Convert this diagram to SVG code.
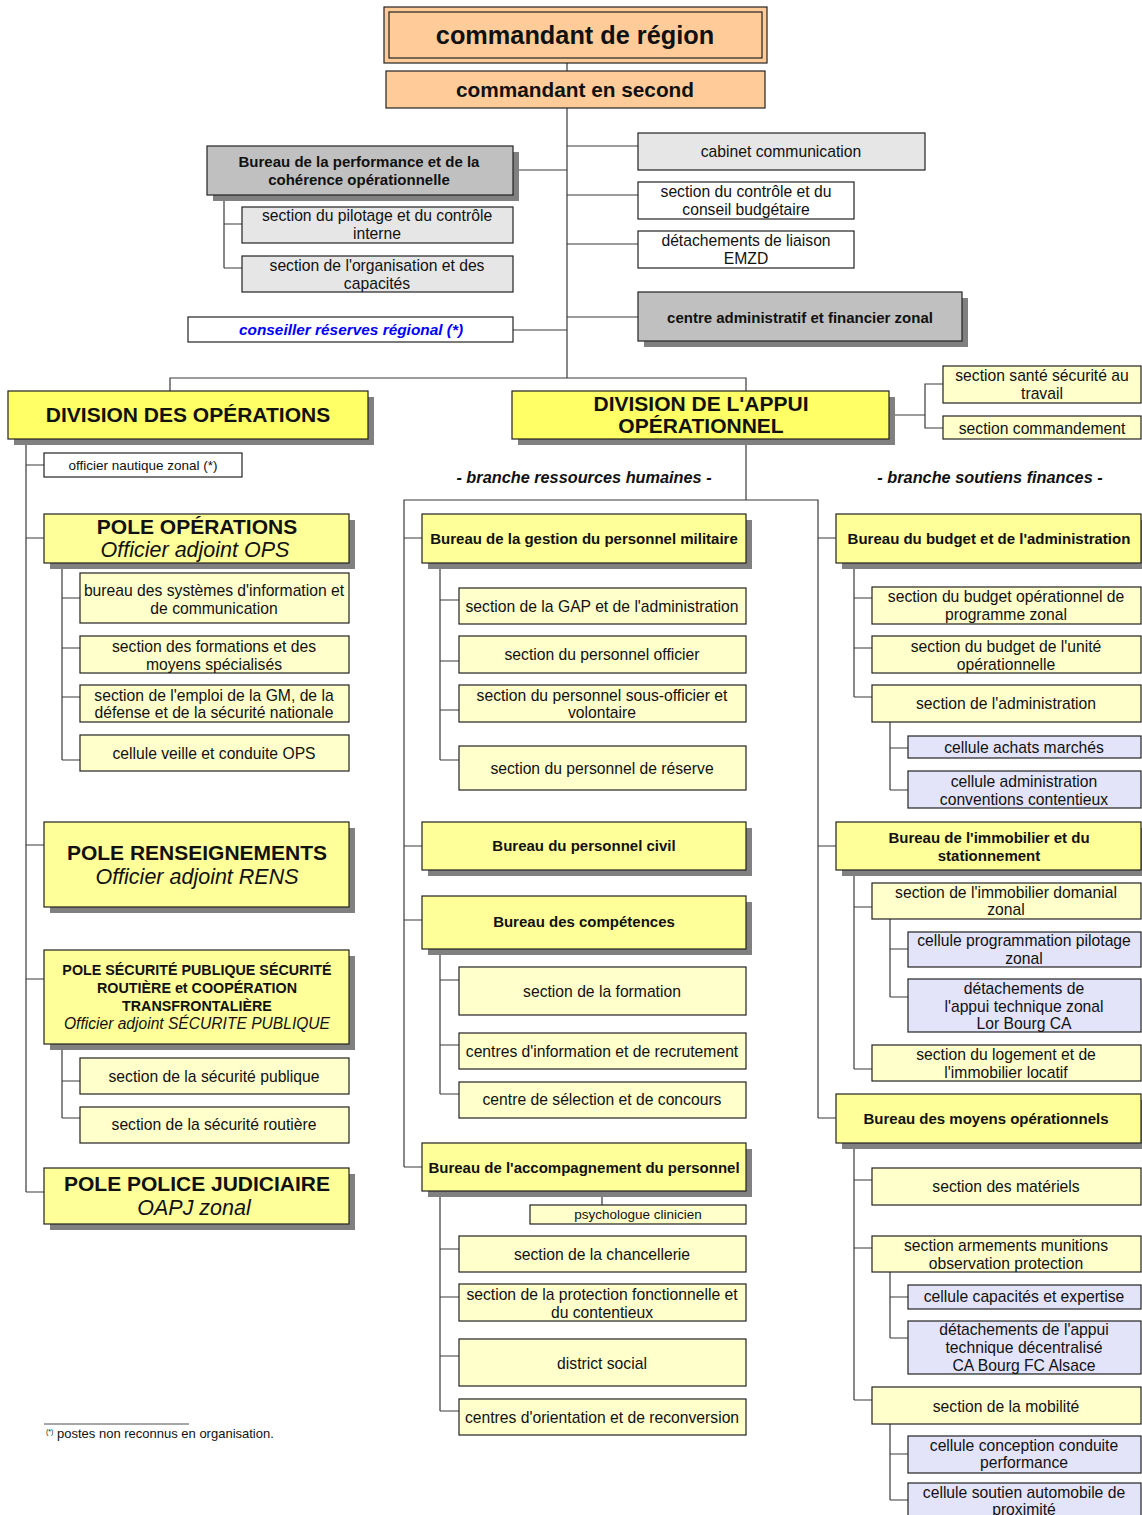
<svg xmlns="http://www.w3.org/2000/svg" width="1142" height="1515" viewBox="0 0 1142 1515">
<style>
.ln{stroke:#3a3a3a;stroke-width:1.2;fill:none}
rect{stroke:#222;stroke-width:1.2}
rect.bg{fill:#fff;stroke:none}
rect.sh{fill:#808080;stroke:none}
.peach{fill:#FFCC99}
.gL{fill:#E6E6E6}
.gD{fill:#C0C0C0}
.w{fill:#FFFFFF}
.y1{fill:#FFFF66}
.y2{fill:#FFFF99}
.y3{fill:#FFFFCC}
.lav{fill:#E3E3FA}
text{font-family:"Liberation Sans",Arial,Helvetica,sans-serif;font-size:15.7px;text-anchor:middle;fill:#111}
.bb{font-weight:bold;font-size:15px}
.big{font-weight:bold;font-size:21px}
.it{font-style:italic;font-size:21.5px}
.sm{font-size:13.5px}
.lab{font-weight:bold;font-style:italic;font-size:16.3px}
</style>
<rect class="bg" width="1142" height="1515"/>
<g id="connectors">
<path class="ln" d="M567 63V378M567 146H638M567 195H638M567 244H638M567 317H638M513 170H567M513 330H567"/>
<path class="ln" d="M224 195V268M224 224H242M224 268H242"/>
<path class="ln" d="M170 391V378H746V391M889 415H925M943 384H925V428H943"/>
<path class="ln" d="M26 439V1192M26 465H44M26 538H44M26 845H44M26 979H44M26 1192H44"/>
<path class="ln" d="M62 563V760M62 598H80M62 648H80M62 697H80M62 760H80"/>
<path class="ln" d="M62 1044V1118M62 1081H80M62 1118H80"/>
<path class="ln" d="M746 439V500M404 1167V500H818V1118M404 538H422M404 846H422M404 920H422M404 1167H422M818 538H836M818 846H836M818 1118H836"/>
<path class="ln" d="M440 563V760M440 600H459M440 661H459M440 710H459M440 760H459"/>
<path class="ln" d="M440 949V1094M440 980H459M440 1045H459M440 1094H459"/>
<path class="ln" d="M602 1191V1205M440 1191V1411M440 1249H459M440 1297H459M440 1356H459M440 1411H459"/>
<path class="ln" d="M854 563V697M854 598H872M854 648H872M854 697H872M890 722V790M890 748H908M890 790H908"/>
<path class="ln" d="M854 870V1069M854 907H872M854 1069H872M890 919V997M890 949H908M890 997H908"/>
<path class="ln" d="M854 1143V1400M854 1180H872M854 1248H872M854 1400H872M890 1272V1338M890 1297H908M890 1338H908M890 1424V1500M890 1454H908M890 1500H908"/>
</g>
<g id="n_cdt_region"><rect class="peach" x="384" y="7" width="383" height="56" stroke-width="3"/><rect fill="none" x="389" y="12" width="373" height="46"/><text x="575" y="44" style="font-weight:bold;font-size:25.3px">commandant de région</text></g>
<g id="n_cdt_second"><rect class="peach" x="386" y="71" width="379" height="37"/><text x="575" y="97" style="font-weight:bold;font-size:20.8px">commandant en second</text></g>
<g id="n_cabinet"><rect class="gL" x="638" y="133" width="287" height="37"/><text x="781" y="157">cabinet communication</text></g>
<g id="n_controle"><rect class="w" x="638" y="182" width="216" height="37"/><text x="746" y="197">section du contrôle et du</text><text x="746" y="215">conseil budgétaire</text></g>
<g id="n_liaison"><rect class="w" x="638" y="231" width="216" height="37"/><text x="746" y="246">détachements de liaison</text><text x="746" y="264">EMZD</text></g>
<g id="n_caf"><rect class="sh" x="644" y="298" width="324" height="49"/><rect class="gD" x="638" y="292" width="324" height="49"/><text class="bb" x="800" y="323">centre administratif et financier zonal</text></g>
<g id="n_bpco"><rect class="sh" x="213" y="152" width="306" height="49"/><rect class="gD" x="207" y="146" width="306" height="49"/><text class="bb" x="359" y="167">Bureau de la performance et de la</text><text class="bb" x="359" y="185">cohérence opérationnelle</text></g>
<g id="n_pilotage"><rect class="gL" x="242" y="207" width="271" height="36"/><text x="377" y="221">section du pilotage et du contrôle</text><text x="377" y="239">interne</text></g>
<g id="n_orga"><rect class="gL" x="242" y="256" width="271" height="36"/><text x="377" y="271">section de l'organisation et des</text><text x="377" y="289">capacités</text></g>
<g id="n_conseiller"><rect class="w" x="188" y="317" width="325" height="25"/><text x="351" y="335" style="font-weight:bold;font-style:italic;font-size:15.4px;fill:#0000FF">conseiller réserves régional (*)</text></g>
<g id="n_div_ops"><rect class="sh" x="14" y="397" width="360" height="48"/><rect class="y1" x="8" y="391" width="360" height="48"/><text class="big" x="188" y="422">DIVISION DES OPÉRATIONS</text></g>
<g id="n_div_appui"><rect class="sh" x="518" y="397" width="377" height="48"/><rect class="y1" x="512" y="391" width="377" height="48"/><text class="big" x="701" y="411">DIVISION DE L'APPUI</text><text class="big" x="701" y="433">OPÉRATIONNEL</text></g>
<g id="n_sst"><rect class="y3" x="943" y="366" width="198" height="37"/><text x="1042" y="381">section santé sécurité au</text><text x="1042" y="399">travail</text></g>
<g id="n_scdt"><rect class="y3" x="943" y="416" width="198" height="23"/><text x="1042" y="434">section commandement</text></g>
<g id="n_onz"><rect class="w" x="44" y="453" width="198" height="24"/><text class="sm" x="143" y="470">officier nautique zonal (*)</text></g>
<g id="n_pole_ops"><rect class="sh" x="50" y="520" width="305" height="49"/><rect class="y2" x="44" y="514" width="305" height="49"/><text class="big" x="197" y="534">POLE OPÉRATIONS</text><text class="it" x="195" y="557">Officier adjoint OPS</text></g>
<g id="n_bsic"><rect class="y3" x="80" y="573" width="269" height="50"/><text x="214" y="596">bureau des systèmes d'information et</text><text x="214" y="614">de communication</text></g>
<g id="n_sfms"><rect class="y3" x="80" y="636" width="269" height="37"/><text x="214" y="652">section des formations et des</text><text x="214" y="670">moyens spécialisés</text></g>
<g id="n_segm"><rect class="y3" x="80" y="685" width="269" height="37"/><text x="214" y="701">section de l'emploi de la GM, de la</text><text x="214" y="718">défense et de la sécurité nationale</text></g>
<g id="n_cvco"><rect class="y3" x="80" y="735" width="269" height="36"/><text x="214" y="759">cellule veille et conduite OPS</text></g>
<g id="n_pole_rens"><rect class="sh" x="50" y="828" width="305" height="85"/><rect class="y2" x="44" y="822" width="305" height="85"/><text class="big" x="197" y="860">POLE RENSEIGNEMENTS</text><text class="it" x="197" y="884">Officier adjoint RENS</text></g>
<g id="n_pole_sp"><rect class="sh" x="50" y="956" width="305" height="94"/><rect class="y2" x="44" y="950" width="305" height="94"/><text x="197" y="975" style="font-weight:bold;font-size:14.3px">POLE SÉCURITÉ PUBLIQUE SÉCURITÉ</text><text x="197" y="993" style="font-weight:bold;font-size:14.3px">ROUTIÈRE et COOPÉRATION</text><text x="197" y="1011" style="font-weight:bold;font-size:14.3px">TRANSFRONTALIÈRE</text><text x="197" y="1029" style="font-style:italic;font-size:15.6px">Officier adjoint SÉCURITE PUBLIQUE</text></g>
<g id="n_ssp"><rect class="y3" x="80" y="1058" width="269" height="36"/><text x="214" y="1082">section de la sécurité publique</text></g>
<g id="n_ssr"><rect class="y3" x="80" y="1107" width="269" height="36"/><text x="214" y="1130">section de la sécurité routière</text></g>
<g id="n_pole_pj"><rect class="sh" x="50" y="1174" width="305" height="56"/><rect class="y2" x="44" y="1168" width="305" height="56"/><text class="big" x="197" y="1191">POLE POLICE JUDICIAIRE</text><text class="it" x="194" y="1215">OAPJ zonal</text></g>
<g id="labels"><text class="lab" x="584" y="483">- branche ressources humaines -</text><text class="lab" x="990" y="483">- branche soutiens finances -</text></g>
<g id="n_bgpm"><rect class="sh" x="428" y="520" width="324" height="49"/><rect class="y2" x="422" y="514" width="324" height="49"/><text class="bb" x="584" y="544">Bureau de la gestion du personnel militaire</text></g>
<g id="n_sgap"><rect class="y3" x="459" y="588" width="287" height="36"/><text x="602" y="612">section de la GAP et de l'administration</text></g>
<g id="n_spo"><rect class="y3" x="459" y="636" width="287" height="37"/><text x="602" y="660">section du personnel officier</text></g>
<g id="n_spsov"><rect class="y3" x="459" y="685" width="287" height="37"/><text x="602" y="701">section du personnel sous-officier et</text><text x="602" y="718">volontaire</text></g>
<g id="n_spr"><rect class="y3" x="459" y="746" width="287" height="44"/><text x="602" y="774">section du personnel de réserve</text></g>
<g id="n_bpc"><rect class="sh" x="428" y="828" width="324" height="48"/><rect class="y2" x="422" y="822" width="324" height="48"/><text class="bb" x="584" y="851">Bureau du personnel civil</text></g>
<g id="n_bc"><rect class="sh" x="428" y="902" width="324" height="53"/><rect class="y2" x="422" y="896" width="324" height="53"/><text class="bb" x="584" y="927">Bureau des compétences</text></g>
<g id="n_sf"><rect class="y3" x="459" y="967" width="287" height="48"/><text x="602" y="997">section de la formation</text></g>
<g id="n_cir"><rect class="y3" x="459" y="1033" width="287" height="36"/><text x="602" y="1057">centres d'information et de recrutement</text></g>
<g id="n_csc"><rect class="y3" x="459" y="1082" width="287" height="36"/><text x="602" y="1105">centre de sélection et de concours</text></g>
<g id="n_bap"><rect class="sh" x="428" y="1149" width="324" height="48"/><rect class="y2" x="422" y="1143" width="324" height="48"/><text class="bb" x="584" y="1173">Bureau de l'accompagnement du personnel</text></g>
<g id="n_psy"><rect class="y3" x="530" y="1205" width="216" height="19"/><text class="sm" x="638" y="1219">psychologue clinicien</text></g>
<g id="n_sch"><rect class="y3" x="459" y="1236" width="287" height="36"/><text x="602" y="1260">section de la chancellerie</text></g>
<g id="n_spfc"><rect class="y3" x="459" y="1284" width="287" height="37"/><text x="602" y="1300">section de la protection fonctionnelle et</text><text x="602" y="1318">du contentieux</text></g>
<g id="n_ds"><rect class="y3" x="459" y="1339" width="287" height="47"/><text x="602" y="1369">district social</text></g>
<g id="n_cor"><rect class="y3" x="459" y="1399" width="287" height="36"/><text x="602" y="1423">centres d'orientation et de reconversion</text></g>
<g id="n_bba"><rect class="sh" x="842" y="520" width="305" height="49"/><rect class="y2" x="836" y="514" width="305" height="49"/><text class="bb" x="989" y="544">Bureau du budget et de l'administration</text></g>
<g id="n_sbop"><rect class="y3" x="872" y="587" width="269" height="37"/><text x="1006" y="602">section du budget opérationnel de</text><text x="1006" y="620">programme zonal</text></g>
<g id="n_sbuo"><rect class="y3" x="872" y="636" width="269" height="37"/><text x="1006" y="652">section du budget de l'unité</text><text x="1006" y="670">opérationnelle</text></g>
<g id="n_sadm"><rect class="y3" x="872" y="685" width="269" height="37"/><text x="1006" y="709">section de l'administration</text></g>
<g id="n_cam"><rect class="lav" x="908" y="736" width="233" height="22"/><text x="1024" y="753">cellule achats marchés</text></g>
<g id="n_cacc"><rect class="lav" x="908" y="771" width="233" height="37"/><text x="1024" y="787">cellule administration</text><text x="1024" y="805">conventions contentieux</text></g>
<g id="n_bis"><rect class="sh" x="842" y="828" width="305" height="48"/><rect class="y2" x="836" y="822" width="305" height="48"/><text class="bb" x="989" y="843">Bureau de l'immobilier et du</text><text class="bb" x="989" y="861">stationnement</text></g>
<g id="n_sidz"><rect class="y3" x="872" y="883" width="269" height="36"/><text x="1006" y="898">section de l'immobilier domanial</text><text x="1006" y="915">zonal</text></g>
<g id="n_cppz"><rect class="lav" x="908" y="932" width="233" height="35"/><text x="1024" y="946">cellule programmation pilotage</text><text x="1024" y="964">zonal</text></g>
<g id="n_datz"><rect class="lav" x="908" y="979" width="233" height="53"/><text x="1024" y="994">détachements de</text><text x="1024" y="1012">l'appui technique zonal</text><text x="1024" y="1029">Lor Bourg CA</text></g>
<g id="n_slil"><rect class="y3" x="872" y="1045" width="269" height="36"/><text x="1006" y="1060">section du logement et de</text><text x="1006" y="1078">l'immobilier locatif</text></g>
<g id="n_bmo"><rect class="sh" x="842" y="1100" width="305" height="49"/><rect class="y2" x="836" y="1094" width="305" height="49"/><text class="bb" x="986" y="1124">Bureau des moyens opérationnels</text></g>
<g id="n_smat"><rect class="y3" x="872" y="1168" width="269" height="37"/><text x="1006" y="1192">section des matériels</text></g>
<g id="n_samop"><rect class="y3" x="872" y="1236" width="269" height="36"/><text x="1006" y="1251">section armements munitions</text><text x="1006" y="1269">observation protection</text></g>
<g id="n_cce"><rect class="lav" x="908" y="1285" width="233" height="24"/><text x="1024" y="1302">cellule capacités et expertise</text></g>
<g id="n_datd"><rect class="lav" x="908" y="1321" width="233" height="53"/><text x="1024" y="1335">détachements de l'appui</text><text x="1024" y="1353">technique décentralisé</text><text x="1024" y="1371">CA Bourg FC Alsace</text></g>
<g id="n_smob"><rect class="y3" x="872" y="1387" width="269" height="37"/><text x="1006" y="1412">section de la mobilité</text></g>
<g id="n_cccp"><rect class="lav" x="908" y="1436" width="233" height="37"/><text x="1024" y="1451">cellule conception conduite</text><text x="1024" y="1468">performance</text></g>
<g id="n_csap"><rect class="lav" x="908" y="1483" width="233" height="40"/><text x="1024" y="1498">cellule soutien automobile de</text><text x="1024" y="1515">proximité</text></g>
<g id="footnote"><path d="M44 1424H189" stroke="#222" stroke-width="0.8"/><text x="46" y="1438" style="text-anchor:start;font-size:13px"><tspan style="font-size:7px" dy="-4">(*)</tspan><tspan dy="4"> postes non reconnus en organisation.</tspan></text></g>
</svg>
